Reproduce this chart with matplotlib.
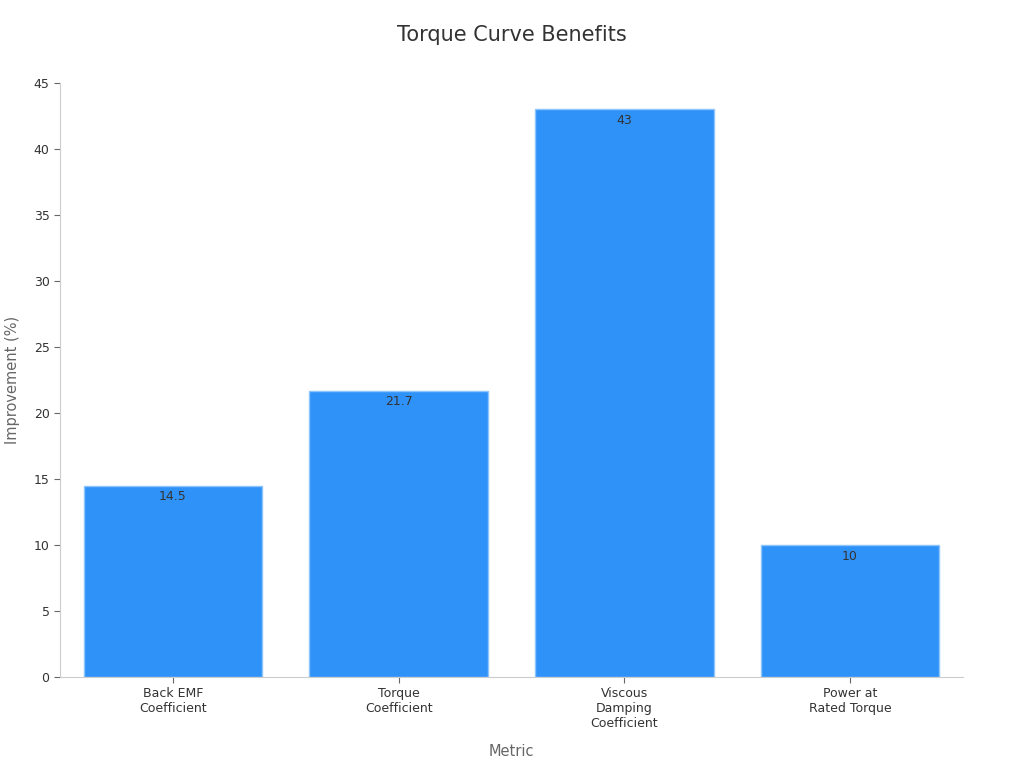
import matplotlib
matplotlib.use("Agg")
import matplotlib.pyplot as plt

# bar data
metrics = ["Back EMF\nCoefficient", "Torque\nCoefficient", "Viscous\nDamping\nCoefficient", "Power at\nRated Torque"]
improvement = [14.5, 21.7, 43, 10]
value_labels = ["14.5", "21.7", "43", "10"]

bar_color = "#2f92f9"
grid_gray = "#cccccc"
text_dark = "#333333"

fig = plt.figure(figsize=(10.24, 7.68), dpi=100)
ax = fig.add_axes([0.0586, 0.1185, 0.8818, 0.7734])

x = range(len(metrics))
bars = ax.bar(x, improvement, width=0.79, color=bar_color, edgecolor="#8cc4fb", linewidth=1)

for b, lab in zip(bars, value_labels):
    ax.text(b.get_x() + b.get_width()/2, b.get_height() - 0.35, lab,
            ha="center", va="top", fontsize=9, color=text_dark)

ax.set_xlim(-0.5, 3.5)
ax.set_ylim(0, 45)
ax.set_yticks(range(0, 46, 5))
ax.set_xticks(list(x))
ax.set_xticklabels(metrics, fontsize=9, color=text_dark)
ax.tick_params(axis="y", labelsize=9, colors=text_dark, color="#666666", length=4)
ax.tick_params(axis="x", color="#666666", length=4)

for s in ["top", "right"]:
    ax.spines[s].set_visible(False)
ax.spines["left"].set_color(grid_gray)
ax.spines["bottom"].set_color(grid_gray)

ax.set_xlabel("Metric", fontsize=10.5, color="#666666", labelpad=10)
ax.set_ylabel("Improvement (%)", fontsize=10.5, color="#666666", labelpad=10)
fig.suptitle("Torque Curve Benefits", fontsize=15, color=text_dark, y=0.968)

fig.savefig("out.png", dpi=100)
